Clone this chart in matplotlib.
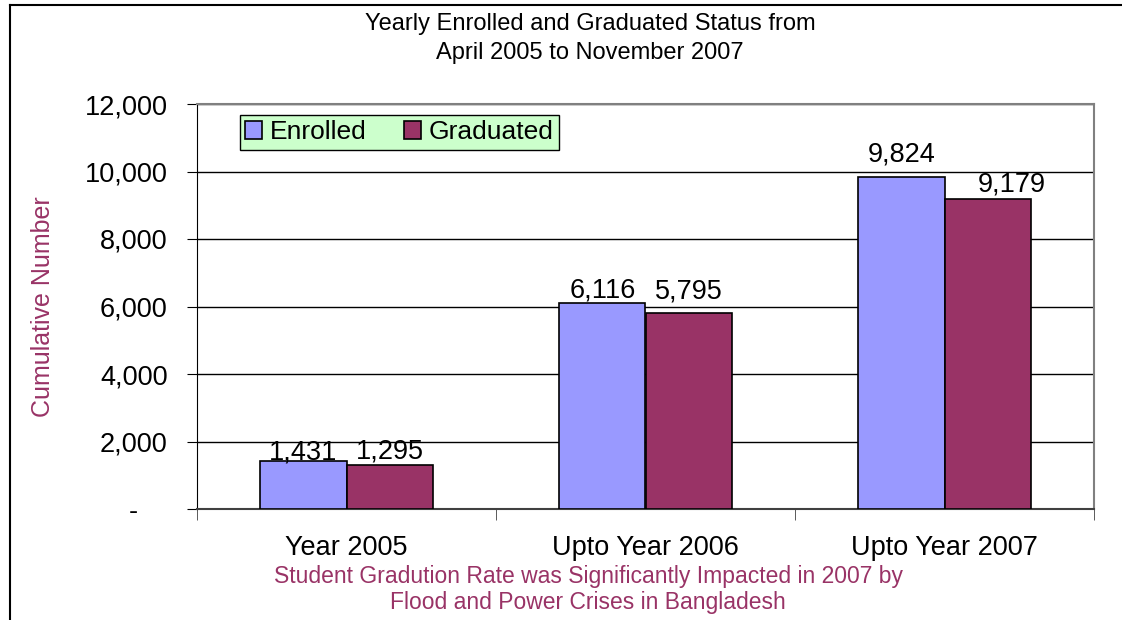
import numpy as np
import matplotlib
matplotlib.use('Agg')
import matplotlib.pyplot as plt
from matplotlib.lines import Line2D

plt.rcParams['font.family'] = ['Liberation Sans', 'DejaVu Sans']

categories = ['Year 2005', 'Upto Year 2006', 'Upto Year 2007']
enrolled = [1431, 6116, 9824]
graduated = [1295, 5795, 9179]
yticks = [0, 2000, 4000, 6000, 8000, 10000, 12000]
ytick_labels = ['-    ', '2,000', '4,000', '6,000', '8,000', '10,000', '12,000']

# label nudges (pixels) as placed in the original chart
enrolled_nudge = [(0, 1), (0, 5), (0, 16)]
graduated_nudge = [(0, 7), (0, 15), (24, 8)]

W, H = 1122, 620
fig = plt.figure(figsize=(W / 100, H / 100), dpi=100)
ax = fig.add_axes([197 / W, 1 - 509 / H, (1094 - 197) / W, (509 - 104) / H])

x = np.arange(len(categories))
w = 0.288
b1 = ax.bar(x - w / 2, enrolled, w, color='#9999FF', edgecolor='black', linewidth=1.2, label='Enrolled', zorder=3)
b2 = ax.bar(x + w / 2, graduated, w, color='#993366', edgecolor='black', linewidth=1.2, label='Graduated', zorder=3)

for bars, vals, nudges in ((b1, enrolled, enrolled_nudge), (b2, graduated, graduated_nudge)):
    for r, v, (dx, dy) in zip(bars, vals, nudges):
        ax.annotate(f'{v:,}', (r.get_x() + r.get_width() / 2, v), xytext=(dx * 0.72, dy * 0.72),
                    textcoords='offset points', ha='center', va='baseline', fontsize=19.5, zorder=4)

ax.set_xlim(-0.5, 2.5)
ax.set_ylim(0, 12000)
ax.set_yticks(yticks)
ax.set_yticklabels(ytick_labels, fontsize=19.5)
ax.yaxis.grid(True, color='black', linewidth=1, zorder=0)
ax.set_axisbelow(True)

ax.set_xticks(x)
ax.set_xticklabels(categories, fontsize=19.5)
ax.tick_params(axis='x', length=0, pad=19)
ax.set_xticks([-0.5, 0.5, 1.5, 2.5], minor=True)
ax.tick_params(axis='x', which='minor', length=8, color='#404040', direction='out')
ax.tick_params(axis='y', length=7, direction='out', pad=14)

for s in ('top', 'right'):
    ax.spines[s].set_color('#808080')
    ax.spines[s].set_linewidth(1.5)
ax.spines['left'].set_color('black')
ax.spines['bottom'].set_color('#404040')
ax.spines['bottom'].set_linewidth(1.5)

ax.set_ylabel('Cumulative Number', fontsize=18, color='#993366')
ax.yaxis.set_label_coords((55 - 197) / (1094 - 197), 0.5)

leg = ax.legend(loc='upper left', bbox_to_anchor=(43 / 897, 1 - 11 / 405), ncol=2, fontsize=19,
                frameon=True, fancybox=False, borderpad=0.2, handlelength=0.65, handleheight=0.65,
                handletextpad=0.3, columnspacing=1.4, borderaxespad=0)
leg.get_frame().set_facecolor('#CCFFCC')
leg.get_frame().set_edgecolor('black')
leg.get_frame().set_alpha(1)

fig.text(590 / W, 1 - 24 / H, 'Yearly Enrolled and Graduated Status from', ha='center', va='center', fontsize=17)
fig.text(590 / W, 1 - 53 / H, 'April 2005 to November 2007', ha='center', va='center', fontsize=17)
fig.text(588 / W, 1 - 577 / H, 'Student Gradution Rate was Significantly Impacted in 2007 by',
         ha='center', va='center', fontsize=16.5, color='#993366')
fig.text(588 / W, 1 - 602 / H, 'Flood and Power Crises in Bangladesh',
         ha='center', va='center', fontsize=16.5, color='#993366')

# outer chart border
fig.add_artist(Line2D([10 / W, 1], [1 - 5 / H, 1 - 5 / H], color='black', linewidth=1.5))
fig.add_artist(Line2D([10 / W, 10 / W], [0, 1 - 5 / H], color='black', linewidth=1.5))

fig.savefig('out.png', dpi=100)
